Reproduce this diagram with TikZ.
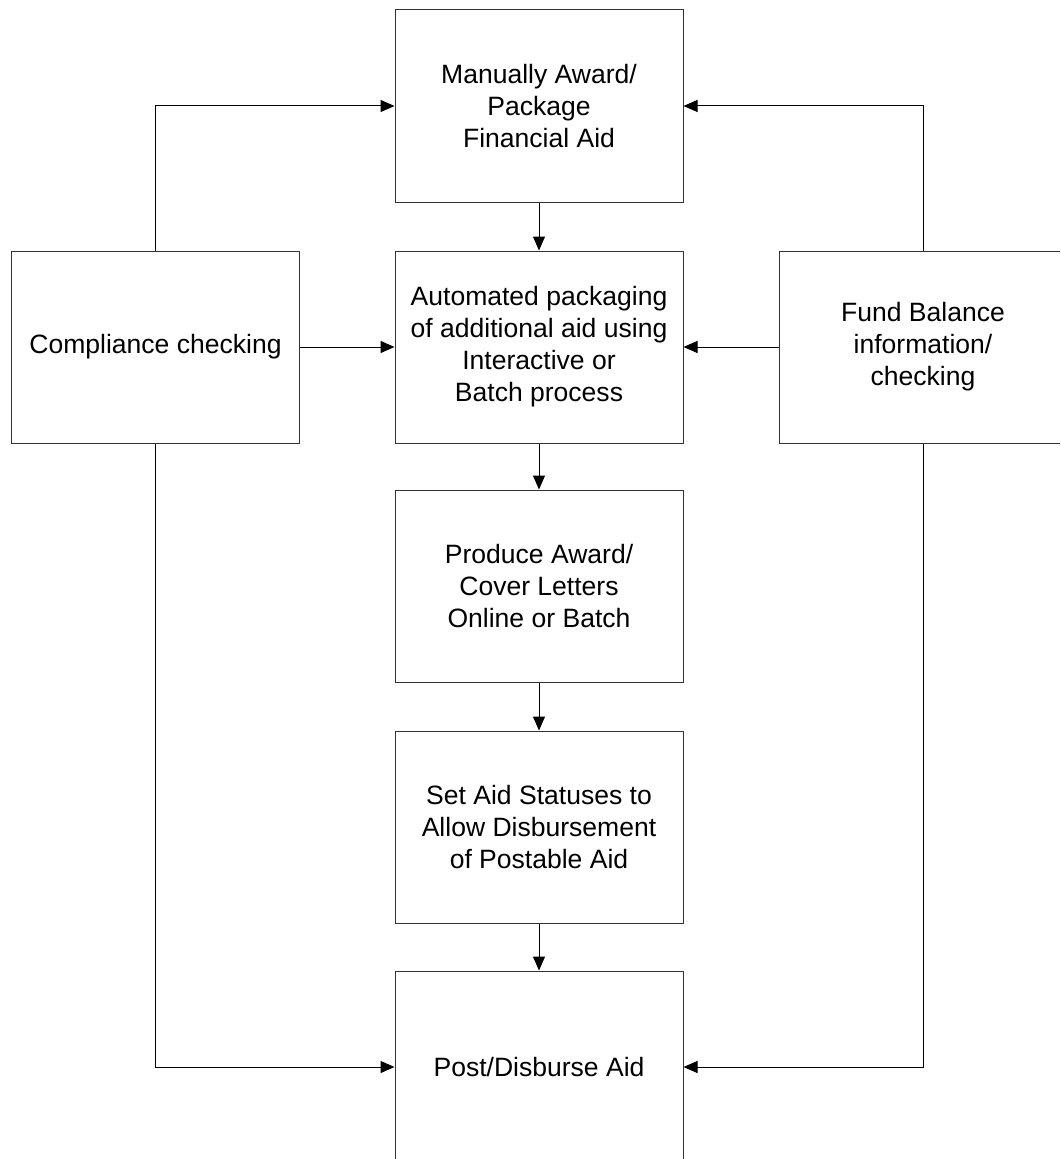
\documentclass[tikz,border=0pt]{standalone}
\usepackage{fontspec}
\setmainfont{Liberation Sans}
\usetikzlibrary{arrows.meta, positioning}

\tikzset{
    procbox/.style={draw=black!80, line width=0.75pt, fill=white, align=center,
        minimum width=216pt, minimum height=144pt, inner sep=2pt,
        font=\fontsize{19.9}{24}\selectfont},
    flow/.style={draw=black, line width=0.75pt, -{Triangle[length=10.5pt,width=9pt]}}
}

\begin{document}
\begin{tikzpicture}[x=0.75pt, y=-0.75pt]
    \clip (0,0) rectangle (1060,1159);

    % Mittlere Spalte
    \node[procbox] (manual)  at (539,106)  {Manually Award/\\Package\\Financial Aid};
    \node[procbox] (auto)    at (539,347)  {Automated packaging\\of additional aid using\\Interactive or\\Batch process};
    \node[procbox] (produce) at (539,586)  {Produce Award/\\Cover Letters\\Online or Batch};
    \node[procbox] (setaid)  at (539,827)  {Set Aid Statuses to\\Allow Disbursement\\of Postable Aid};
    \node[procbox] (post)    at (539,1067) {Post/Disburse Aid};

    % Seitenboxen
    \node[procbox] (comp) at (155.5,347) {Compliance checking};
    \node[procbox] (fund) at (923,347)   {Fund Balance\\information/\\checking};

    % Hauptfluss
    \draw[flow] (manual) -- (auto);
    \draw[flow] (auto) -- (produce);
    \draw[flow] (produce) -- (setaid);
    \draw[flow] (setaid) -- (post);

    % Pruefungen links und rechts
    \draw[flow] (comp.north) |- (manual.west);
    \draw[flow] (comp.east) -- (auto.west);
    \draw[flow] (comp.south) |- (post.west);
    \draw[flow] (fund.north) |- (manual.east);
    \draw[flow] (fund.west) -- (auto.east);
    \draw[flow] (fund.south) |- (post.east);
\end{tikzpicture}
\end{document}
